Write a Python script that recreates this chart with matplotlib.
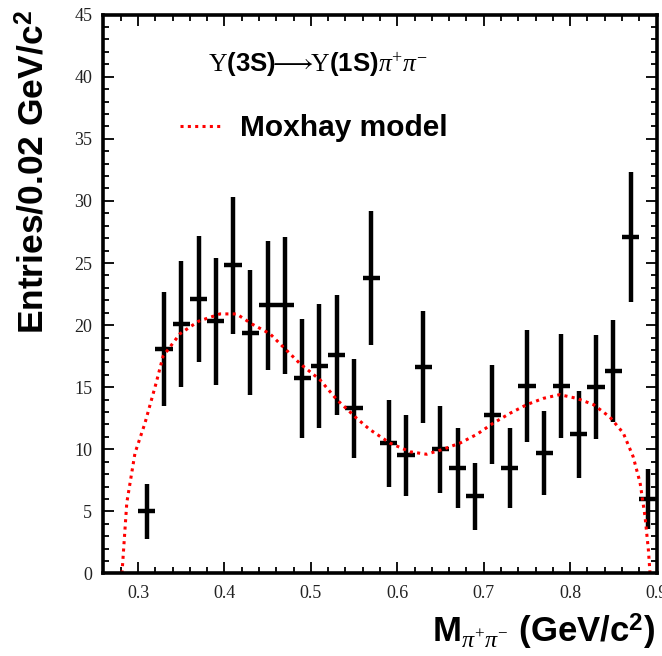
import matplotlib
matplotlib.use('Agg')
import matplotlib.pyplot as plt
from matplotlib.ticker import MultipleLocator

plt.rcParams['mathtext.fontset'] = 'custom'
plt.rcParams['mathtext.rm'] = 'Liberation Serif'
plt.rcParams['mathtext.it'] = 'Liberation Serif:italic'
plt.rcParams['mathtext.bf'] = 'Liberation Sans:bold'
plt.rcParams['mathtext.sf'] = 'Liberation Sans:bold'

# Data: pi+pi- invariant mass bins (GeV/c^2), entries and errors
mass = [0.31, 0.33, 0.35, 0.37, 0.39, 0.41, 0.43, 0.45, 0.47, 0.49,
        0.51, 0.53, 0.55, 0.57, 0.59, 0.61, 0.63, 0.65, 0.67, 0.69,
        0.71, 0.73, 0.75, 0.77, 0.79, 0.81, 0.83, 0.85, 0.87, 0.89]
entries = [5.0, 18.1, 20.1, 22.1, 20.3, 24.8, 19.4, 21.6, 21.6, 15.7,
           16.7, 17.6, 13.3, 23.8, 10.5, 9.5, 16.6, 10.0, 8.5, 6.2,
           12.8, 8.5, 15.1, 9.7, 15.1, 11.2, 15.0, 16.3, 27.1, 6.0]
errors = [2.2, 4.6, 5.1, 5.1, 5.1, 5.5, 5.0, 5.2, 5.5, 4.8,
          5.0, 4.8, 4.0, 5.4, 3.5, 3.3, 4.5, 3.5, 3.2, 2.7,
          4.0, 3.2, 4.5, 3.4, 4.2, 3.5, 4.2, 4.1, 5.2, 2.4]

# Moxhay model curve
model_x = [0.2814, 0.287, 0.2965, 0.308, 0.3208, 0.329, 0.3485, 0.3697,
           0.3948, 0.414, 0.4315, 0.4527, 0.470, 0.4874, 0.5105, 0.530,
           0.553, 0.568, 0.5916, 0.6147, 0.634, 0.653, 0.6726, 0.692,
           0.711, 0.7305, 0.75, 0.769, 0.788, 0.8077, 0.827, 0.846,
           0.8616, 0.873, 0.881, 0.8867, 0.8906, 0.8925]
model_y = [0.0, 5.7, 9.7, 12.1, 15.3, 17.5, 19.3, 20.3,
           20.9, 20.9, 20.1, 19.3, 18.1, 16.9, 15.6, 14.0,
           12.5, 11.6, 10.5, 9.8, 9.6, 10.0, 10.5, 11.2,
           12.1, 12.9, 13.6, 14.1, 14.4, 14.1, 13.6, 12.6,
           11.3, 9.4, 7.3, 4.6, 1.9, 0.0]

fig = plt.figure(figsize=(6.62, 6.56), dpi=100)
ax = fig.add_axes([0.1563, 0.1258, 0.8354, 0.8519])

ax.errorbar(mass, entries, yerr=errors, xerr=0.01, fmt='none',
            ecolor='black', elinewidth=3.2, capsize=0)
ax.plot(model_x, model_y, color='red', linewidth=2.2,
        linestyle=(0, (1, 1.4)), label='Moxhay model')

ax.set_xlim(0.26, 0.90)
ax.set_ylim(0, 45)
ax.xaxis.set_major_locator(MultipleLocator(0.1))
ax.xaxis.set_minor_locator(MultipleLocator(0.02))
ax.yaxis.set_major_locator(MultipleLocator(5))
ax.yaxis.set_minor_locator(MultipleLocator(1))
ax.tick_params(which='both', direction='in', top=True, right=True,
               width=1.3, color='black')
ax.tick_params(which='major', length=8, pad=8)
ax.tick_params(which='minor', length=4)
for lab in ax.get_xticklabels() + ax.get_yticklabels():
    lab.set_family('Liberation Serif')
    lab.set_fontsize(13)
    lab.set_color('#222222')
for sp in ax.spines.values():
    sp.set_linewidth(2.6)

# process label
ax.text(0.381, 40.9,
        r'$\Upsilon\mathbf{(3S)}\!\!\longrightarrow\!\!\Upsilon\mathbf{(1S)}\pi^{+}\pi^{-}$',
        fontsize=18.5, ha='left', va='center')

leg = ax.legend(loc='center left', bbox_to_anchor=(0.138, 0.797),
                frameon=False, borderpad=0, borderaxespad=0,
                handlelength=1.4, handletextpad=0.6,
                prop={'family': 'Liberation Sans', 'weight': 'bold', 'size': 21.5})

fig.text(34 / 662, 1 - 10 / 656, r'Entries/0.02 GeV/c$^{\mathbf{2}}$',
         rotation=90, ha='center', va='top', fontsize=25.5,
         family='Liberation Sans', fontweight='bold')
fig.text(655 / 662, 1 - 643 / 656,
         r'$\mathbf{M}_{\pi^{+}\pi^{-}}$ (GeV/c$^{\mathbf{2}}$)',
         ha='right', va='baseline', fontsize=25,
         family='Liberation Sans', fontweight='bold')

fig.savefig('out.png', dpi=100)
